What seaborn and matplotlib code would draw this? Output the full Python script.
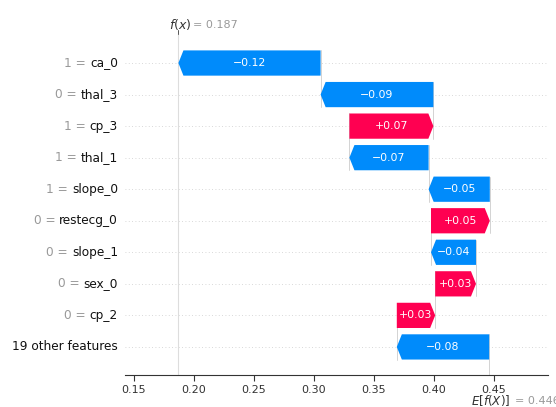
import numpy as np
import matplotlib
matplotlib.use("Agg")
import matplotlib.pyplot as plt
import matplotlib.transforms as mtransforms
import seaborn as sns

# ---- data (top row first) ----
features = ["ca_0", "thal_3", "cp_3", "thal_1", "slope_0", "restecg_0",
            "slope_1", "sex_0", "cp_2", "19 other features"]
feature_values = ["1", "0", "1", "1", "1", "0", "0", "0", "0", None]
shap_values = [-0.1185, -0.094, 0.070, -0.066, -0.051, 0.049,
               -0.0375, 0.034, 0.032, -0.077]
base_value = 0.446
xtick_values = [0.15, 0.20, 0.25, 0.30, 0.35, 0.40, 0.45]

BLUE = "#008bfb"
RED = "#ff0051"

sns.set_theme(style="white")
plt.rcParams["font.family"] = ["DejaVu Sans"]

fig = plt.figure(figsize=(5.56, 4.07), dpi=100)
ax = fig.add_axes([125 / 556, 1 - 375 / 407, (548 - 125) / 556, (375 - 34) / 407])

n = len(features)
rows = np.arange(n)[::-1]          # top row has highest y
vals = np.array(shap_values)

# cumulative starts: from the bottom row (base) upward
starts = np.zeros(n)
cur = base_value
for i in range(n - 1, -1, -1):
    starts[i] = cur
    cur += vals[i]
fx = cur

bar_h = 0.8
head = 0.0042
for i in range(n):
    y = rows[i]
    v = vals[i]
    col = RED if v > 0 else BLUE
    ax.arrow(starts[i], y, v, 0, width=bar_h, head_width=bar_h,
             head_length=min(head, abs(v)), length_includes_head=True,
             color=col, linewidth=0, zorder=3)
    lbl = ("+%0.02f" % v) if v > 0 else ("\u2212%0.02f" % abs(v))
    ax.text(starts[i] + v / 2, y, lbl, ha="center", va="center",
            color="white", fontsize=7.8, zorder=4)
    ax.axhline(y, color="#cccccc", lw=0.6, dashes=(1, 3), zorder=0)
    if i < n - 1:
        ax.plot([starts[i], starts[i]], [y - 1 - 0.4, y + 0.4], color="#cccccc",
                lw=0.6, zorder=1)

ylo, yhi = -0.89, n - 1 + 0.92
ax.set_ylim(ylo, yhi)
ax.set_xlim(0.1425, 0.4950)
ax.plot([base_value, base_value], [ylo, 0.4], color="#cccccc", lw=0.6, zorder=1)
ax.axvline(fx, color="#dddddd", lw=0.8, zorder=0)

ax.set_xticks(xtick_values)
ax.set_xticklabels(["%.2f" % t for t in xtick_values])
ax.tick_params(axis="x", labelsize=8, colors="#333333", length=4, width=0.8,
               direction="out", bottom=True, pad=3)
ax.set_yticks([])
sns.despine(ax=ax, left=True, top=True, right=True)
ax.spines["bottom"].set_color("#333333")
ax.spines["bottom"].set_linewidth(0.8)

# y labels: black feature name, gray "v = " prefix to its left
ytrans = mtransforms.blended_transform_factory(ax.transAxes, ax.transData)
off = mtransforms.ScaledTranslation(-7 / 100, 0, fig.dpi_scale_trans)
for i in range(n):
    y = rows[i]
    t = ax.text(0, y, features[i], transform=ytrans + off, ha="right", va="center",
                fontsize=8.7, color="#111111")
    if feature_values[i] is not None:
        ax.annotate(feature_values[i] + " = ", xy=(0, 0.5), xycoords=t,
                    ha="right", va="center", fontsize=8.7, color="#999999",
                    annotation_clip=False)

# top f(x) tick and label
xtrans = mtransforms.blended_transform_factory(ax.transData, ax.transAxes)
ax.plot([fx, fx], [1.0, 1.012], transform=xtrans, color="#555555", lw=0.7,
        clip_on=False)
ax.annotate("$f(x)$", xy=(fx, 1.0), xycoords=xtrans, xytext=(-9 * 0.72, 9.5 * 0.72),
            textcoords="offset points", ha="left", va="center", fontsize=9,
            color="#333333", annotation_clip=False)
ax.annotate("= %0.03f" % fx, xy=(fx, 1.0), xycoords=xtrans,
            xytext=(15 * 0.72, 9.5 * 0.72), textcoords="offset points",
            ha="left", va="center", fontsize=8, color="#999999", annotation_clip=False)

# bottom E[f(X)] label
ax.annotate("$E[f(X)]$", xy=(base_value, 0.0), xycoords=xtrans,
            xytext=(-18 * 0.72, -26 * 0.72), textcoords="offset points",
            ha="left", va="center", fontsize=8.6, color="#333333", annotation_clip=False)
ax.annotate("= %0.03f" % base_value, xy=(base_value, 0.0), xycoords=xtrans,
            xytext=(26 * 0.72, -26 * 0.72), textcoords="offset points",
            ha="left", va="center", fontsize=8, color="#999999", annotation_clip=False)

fig.savefig("out.png", dpi=100)
